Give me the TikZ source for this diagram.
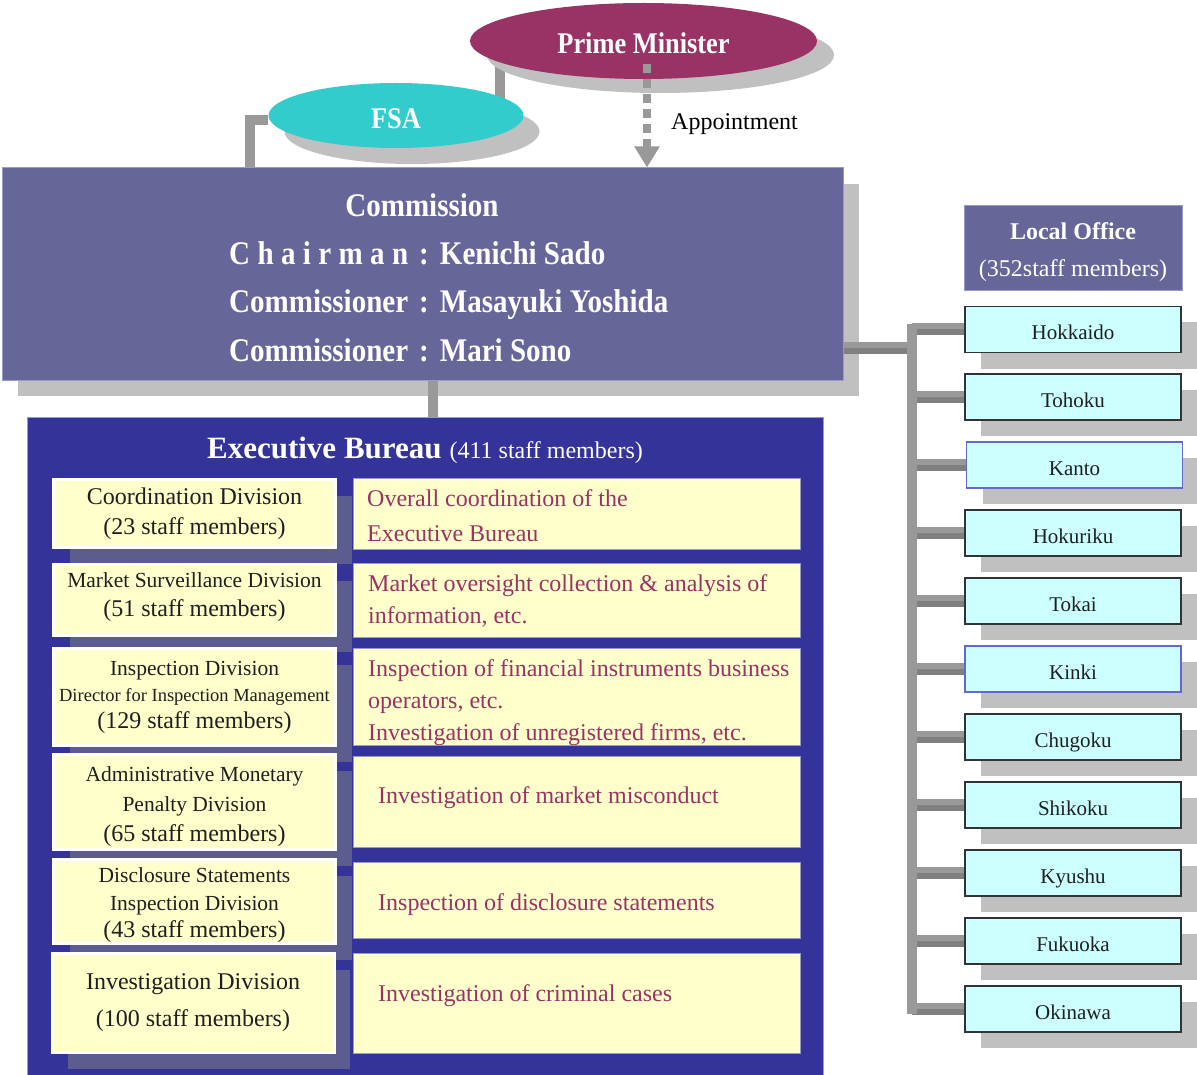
\documentclass[tikz,border=0pt]{standalone}
\usepackage{fontspec}
\setmainfont{Liberation Serif}
\newfontfamily\condserif[FakeStretch=0.88]{Liberation Serif}
\usetikzlibrary{arrows.meta,shapes.geometric,shadows,backgrounds}
\newlength\chairw
\definecolor{pmred}{HTML}{993366}
\definecolor{fsacyan}{HTML}{33CCCC}
\definecolor{commpurple}{HTML}{666699}
\definecolor{ebblue}{HTML}{333399}
\definecolor{pale}{HTML}{FFFFCC}
\definecolor{lcyan}{HTML}{CCFFFF}
\definecolor{txtred}{HTML}{993366}
\definecolor{shadowgray}{HTML}{C0C0C0}
\definecolor{lshadow}{HTML}{5C5C8E}
\definecolor{conngray}{HTML}{999999}
\definecolor{conndark}{HTML}{808080}
\definecolor{apptgray}{HTML}{999999}
\definecolor{bordblue}{HTML}{9999CC}
\definecolor{boxdark}{HTML}{333333}
\definecolor{kantoblue}{HTML}{6666CC}
\begin{document}
\begin{tikzpicture}[x=1pt,y=-1pt,
  conn/.style={draw=conngray, line width=10pt, line join=miter},
  hconn/.style={draw=conngray, line width=12pt},
  hstripe/.style={draw=conndark, line width=6pt},
  appt/.style={draw=apptgray, line width=8pt, dash pattern=on 9pt off 6pt,
    -{Triangle[width=24pt,length=21pt,fill=apptgray]}},
  grayshadow/.style={drop shadow={shadow xshift=16pt, shadow yshift=-16pt, fill=shadowgray, opacity=1}},
  ell/.style={ellipse, inner sep=0pt, text height=26pt, text depth=0pt, text=white,
    font=\condserif\bfseries\fontsize{30}{36}\selectfont},
  commtxt/.style={text=white, inner sep=0pt, font=\condserif\bfseries\fontsize{33}{40}\selectfont},
  lbox/.style={fill=pale, draw=white, line width=3pt, minimum width=282pt, inner sep=0pt,
    drop shadow={shadow xshift=16pt, shadow yshift=-16pt, fill=lshadow, opacity=1}},
  ltext/.style={align=center, inner sep=0pt, text=black!88},
  rbox/.style={fill=pale, draw=bordblue, line width=1pt, minimum width=447pt, inner sep=0pt},
  rtext/.style={anchor=west, align=left, inner sep=0pt, text=txtred},
  lobox/.style={fill=lcyan, draw=boxdark, line width=1.2pt, minimum width=216pt, minimum height=46pt,
    inner sep=0pt, text height=20pt, text depth=0pt, text=black!88, font=\fontsize{21}{24}\selectfont, grayshadow}
]
\useasboundingbox (0,0) rectangle (1197,1075);
\begin{scope}[on background layer]
  \fill[white] (0,0) rectangle (1197,1075);
\end{scope}

% coordinates for connector routes
\coordinate (pmfsaX) at (500,0);
\coordinate (fsaX) at (250,0);
\coordinate (apStart) at (647,64);
\coordinate (apX) at (647,0);
\coordinate (ebX) at (433,0);
\coordinate (busX) at (912,348.5);

% top ellipses
\node[ell, fill=pmred, minimum width=347pt, minimum height=76pt,
  drop shadow={shadow xshift=17pt, shadow yshift=-14pt, fill=shadowgray, opacity=1}] (pm) at (643.5,41) {Prime Minister};
\node[ell, fill=fsacyan, minimum width=255pt, minimum height=65pt,
  drop shadow={shadow xshift=16pt, shadow yshift=-16pt, fill=shadowgray, opacity=1}] (fsa) at (396,115.5) {FSA};

\begin{scope}[on background layer]
  \draw[conn] (pmfsaX |- pm.center) -- (pmfsaX |- fsa.center);
\end{scope}

% commission
\node[fill=commpurple, draw=bordblue, line width=1pt, minimum width=841pt, minimum height=212pt,
  inner sep=0pt, grayshadow] (comm) at (422.5,274) {};
\node[commtxt, anchor=base] (commtitle) at (422,217) {Commission};
\node[commtxt, anchor=base west] (chair) at (229,265)
  {\settowidth{\chairw}{Commissioner}\makebox[\chairw][s]{C h a i r m a n}\hspace{11pt}:\hspace{11pt}Kenichi Sado};
\node[commtxt, anchor=base west] (comm1) at (229,313)
  {Commissioner\hspace{11pt}:\hspace{11pt}Masayuki Yoshida};
\node[commtxt, anchor=base west] (comm2) at (229,361)
  {Commissioner\hspace{11pt}:\hspace{11pt}Mari Sono};

% appointment
\node[anchor=west, inner sep=0pt, font=\fontsize{24}{28}\selectfont] (applabel) at (671,124) {Appointment};

% executive bureau
\node[fill=ebblue, draw=bordblue, line width=1pt, minimum width=796pt, minimum height=664pt, inner sep=0pt] (eb) at (425,749) {};
\node[anchor=base, text=white, inner sep=0pt] (ebtitle) at (425,458)
  {{\fontsize{31}{36}\selectfont\bfseries Executive Bureau}\hspace{8pt}{\fontsize{24}{28}\selectfont(411 staff members)}};

% left boxes
\node[lbox, minimum height=68pt] (d1) at (194.5,513.5) {};
\node[lbox, minimum height=71pt] (d2) at (194.5,600) {};
\node[lbox, minimum height=97pt] (d3) at (194.5,697) {};
\node[lbox, minimum height=95pt] (d4) at (194.5,802) {};
\node[lbox, minimum height=84pt] (d5) at (194.5,901.5) {};
\node[lbox, minimum height=99pt] (d6) at (193,1003) {};
\node[ltext, font=\fontsize{24}{30}\selectfont] (d1t) at (d1.center)
  {Coordination Division\\(23 staff members)};
\node[ltext, font=\fontsize{24}{29}\selectfont] (d2t) at ([yshift=2.5pt]d2.center)
  {{\fontsize{21.5}{29}\selectfont Market Surveillance Division}\\(51 staff members)};
\node[ltext, font=\fontsize{24}{26.5}\selectfont] (d3t) at (d3.center)
  {{\fontsize{21.5}{26.5}\selectfont Inspection Division}\\{\fontsize{18.5}{26.5}\selectfont Director for Inspection Management}\\(129 staff members)};
\node[ltext, font=\fontsize{24}{30}\selectfont] (d4t) at ([yshift=-5pt]d4.center)
  {{\fontsize{21.5}{30}\selectfont Administrative Monetary}\\{\fontsize{21.5}{30}\selectfont Penalty Division}\\(65 staff members)};
\node[ltext, font=\fontsize{24}{27.5}\selectfont] (d5t) at ([yshift=-4pt]d5.center)
  {{\fontsize{21.5}{27.5}\selectfont Disclosure Statements}\\{\fontsize{21.5}{27.5}\selectfont Inspection Division}\\(43 staff members)};
\node[ltext, font=\fontsize{24}{37}\selectfont] (d6t) at (d6.center)
  {Investigation Division\\(100 staff members)};

% right boxes
\node[rbox, minimum height=71pt] (r1) at (577,513.5) {};
\node[rbox, minimum height=74pt] (r2) at (577,600) {};
\node[rbox, minimum height=97pt] (r3) at (577,696.5) {};
\node[rbox, minimum height=91pt] (r4) at (577,801.5) {};
\node[rbox, minimum height=76pt] (r5) at (577,900) {};
\node[rbox, minimum height=100pt] (r6) at (577,1003) {};
\node[rtext, font=\fontsize{24}{35}\selectfont] (r1t) at (367,515.5) {Overall coordination of the\\Executive Bureau};
\node[rtext, font=\fontsize{24}{32}\selectfont] (r2t) at (368,600.5) {Market oversight collection \& analysis of\\information, etc.};
\node[rtext, font=\fontsize{24}{32}\selectfont] (r3t) at (368,703) {Inspection of financial instruments business\\operators, etc.\\Investigation of unregistered firms, etc.};
\node[rtext, font=\fontsize{24}{32}\selectfont] (r4t) at (378,798) {Investigation of market misconduct};
\node[rtext, font=\fontsize{24}{32}\selectfont] (r5t) at (378,905) {Inspection of disclosure statements};
\node[rtext, font=\fontsize{24}{32}\selectfont] (r6t) at (378,996) {Investigation of criminal cases};

% local offices
\node[fill=commpurple, draw=bordblue, line width=0.8pt, minimum width=218pt, minimum height=85pt,
  inner sep=0pt] (lo) at (1073,247.5) {};
\node[align=center, inner sep=0pt, text=white, font=\fontsize{24}{37}\selectfont] (lot) at ([yshift=-5pt]lo.center)
  {\textbf{Local Office}\\(352staff members)};
\node[lobox] (hokkaido) at (1073,329.5) {Hokkaido};
\node[lobox] (tohoku) at (1073,397) {Tohoku};
\node[lobox, draw=kantoblue] (kanto) at (1074.5,465) {Kanto};
\node[lobox] (hokuriku) at (1073,533) {Hokuriku};
\node[lobox] (tokai) at (1073,601) {Tokai};
\node[lobox, draw=kantoblue] (kinki) at (1073,669) {Kinki};
\node[lobox] (chugoku) at (1073,737) {Chugoku};
\node[lobox] (shikoku) at (1073,805) {Shikoku};
\node[lobox] (kyushu) at (1073,873) {Kyushu};
\node[lobox] (fukuoka) at (1073,941) {Fukuoka};
\node[lobox] (okinawa) at (1073,1009) {Okinawa};

% connectors
\draw[conn] ([yshift=-5pt]fsa.west) -| (fsaX |- comm.north);
\draw[conn] (ebX |- comm.south) -- (ebX |- eb.north);
\draw[hconn] (comm.east |- busX) -- (busX);
\draw[hstripe] ([yshift=-3pt]comm.east |- busX) -- ([yshift=-3pt]busX);
\foreach \n in {hokkaido,tohoku,kanto,hokuriku,tokai,kinki,chugoku,shikoku,kyushu,fukuoka,okinawa}{
  \draw[hconn] (\n.west -| busX) -- (\n.west);
  \draw[hstripe] ([yshift=-3pt]\n.west -| busX) -- ([yshift=-3pt]\n.west);
}
\draw[conn, line cap=rect] (hokkaido.west -| busX) -- (okinawa.west -| busX);
\draw[appt] (apStart) -- (apX |- comm.north);
\end{tikzpicture}
\end{document}
